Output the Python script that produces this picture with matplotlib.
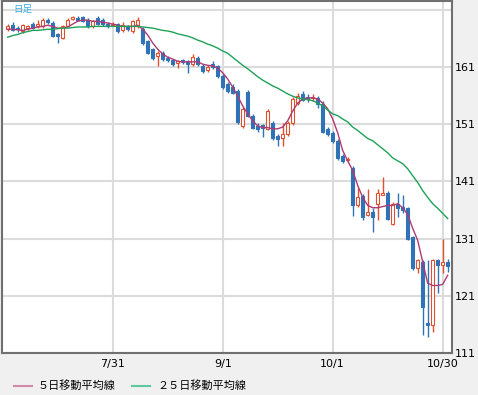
import matplotlib
matplotlib.use("Agg")
import matplotlib.pyplot as plt
from matplotlib.lines import Line2D

# daily candles, 7/1 .. 10/31 (trading days)
opens = [167.6, 168.3, 167.9, 167.3, 167.8, 168.6, 168.1, 168.2, 169.3, 168.7,
         166.8, 166.1, 168.2, 169.4, 169.6, 169.7, 169.2, 168.1, 169.6, 169.2,
         168.6, 168.3, 168.5, 167.5, 168.1, 167.3, 168.1, 167.6, 165.5, 164.1,
         162.9, 163.5, 162.6, 162.2, 161.7, 162.2, 162.0, 161.5, 162.6, 161.2,
         160.4, 161.5, 161.1, 159.4, 158.0, 157.5, 156.8, 150.7, 156.6, 152.5,
         150.7, 150.8, 150.2, 151.2, 149.0, 148.6, 149.3, 151.2, 154.7, 156.3,
         155.8, 155.6, 155.6, 154.6, 150.2, 149.5, 148.1, 145.5, 144.8, 143.4,
         136.8, 138.5, 135.2, 135.6, 137.1, 138.7, 139.0, 133.6, 137.1, 136.5,
         136.3, 131.2, 125.8, 126.9, 116.2, 115.9, 127.2, 126.3, 126.9]
highs = [168.5, 168.8, 168.2, 168.6, 168.4, 168.9, 169.2, 169.6, 169.6, 169.0,
         167.0, 168.4, 169.5, 170.0, 170.0, 170.0, 169.5, 169.3, 169.9, 169.5,
         168.8, 168.8, 168.7, 168.8, 168.3, 169.3, 169.7, 168.0, 165.7, 164.4,
         163.8, 163.8, 162.9, 162.4, 162.3, 162.4, 162.3, 163.2, 162.9, 161.5,
         161.4, 162.0, 161.4, 159.7, 158.3, 158.0, 157.1, 154.0, 156.9, 152.8,
         151.2, 151.0, 153.6, 151.5, 149.3, 151.2, 151.5, 155.8, 156.4, 156.8,
         156.2, 156.3, 155.9, 155.1, 150.5, 149.8, 148.4, 145.8, 145.3, 143.7,
         139.9, 138.8, 139.7, 136.4, 139.7, 141.7, 139.3, 137.4, 138.9, 138.7,
         136.6, 131.5, 127.5, 127.2, 127.2, 127.4, 127.5, 131.0, 127.5]
lows = [167.3, 167.3, 167.2, 167.0, 167.5, 167.6, 167.8, 167.9, 168.6, 166.2,
        165.2, 165.9, 168.0, 169.2, 169.0, 168.8, 167.8, 167.9, 168.3, 168.2,
        167.9, 168.1, 167.0, 167.2, 167.3, 167.0, 167.9, 164.9, 163.2, 162.3,
        161.2, 162.0, 161.9, 161.2, 160.8, 161.6, 160.0, 161.2, 161.2, 160.0,
        160.1, 160.7, 159.1, 157.2, 156.4, 156.2, 151.0, 150.4, 152.2, 150.1,
        149.6, 148.8, 149.9, 148.3, 147.2, 147.2, 149.0, 150.9, 154.4, 155.0,
        154.8, 155.1, 153.9, 149.4, 149.0, 147.8, 144.8, 144.2, 144.6, 135.0,
        136.5, 134.2, 135.0, 132.1, 134.2, 138.7, 134.2, 133.3, 134.7, 135.5,
        130.7, 125.5, 124.9, 114.1, 113.8, 114.7, 121.5, 124.9, 125.1]
closes = [168.2, 167.5, 167.6, 168.3, 168.1, 167.9, 168.6, 169.3, 168.9, 166.4,
          166.4, 168.1, 169.3, 169.7, 169.2, 169.0, 168.1, 169.0, 168.5, 168.5,
          168.1, 168.5, 167.3, 168.4, 167.6, 169.0, 169.3, 165.2, 163.5, 162.6,
          163.5, 162.4, 162.2, 161.5, 162.0, 161.9, 161.5, 162.7, 161.5, 160.3,
          161.0, 161.0, 159.4, 157.5, 156.8, 156.5, 151.3, 153.7, 152.5, 150.4,
          150.2, 150.4, 153.3, 148.6, 148.5, 149.3, 151.2, 155.4, 155.9, 155.3,
          155.4, 155.8, 154.6, 149.7, 149.3, 148.1, 145.1, 144.6, 145.0, 136.8,
          138.2, 134.7, 135.6, 134.7, 138.9, 139.0, 134.5, 137.1, 136.3, 136.0,
          131.0, 125.8, 127.2, 119.0, 115.9, 127.2, 126.3, 126.9, 126.2]

ma5 = [167.6, 167.6, 167.5, 167.4, 167.6, 167.8, 168.0, 168.1, 168.3, 168.1,
       167.8, 167.8, 168.0, 168.5, 169.0, 169.2, 169.2, 169.0, 169.0, 168.8,
       168.7, 168.5, 168.3, 168.1, 168.1, 168.1, 168.3, 167.6, 166.6, 165.2,
       164.1, 163.3, 162.7, 162.4, 162.0, 161.9, 161.9, 161.9, 161.9, 161.5,
       161.3, 161.2, 160.8, 160.0, 158.9, 157.5, 155.9, 154.2, 152.8, 151.6,
       150.7, 150.4, 150.4, 150.2, 150.2, 150.5, 151.6, 153.3, 154.7, 155.4,
       155.6, 155.6, 155.4, 154.7, 153.7, 151.9, 149.5, 146.4, 144.6, 142.9,
       140.3, 138.2, 136.8, 136.4, 136.4, 136.6, 136.8, 136.8, 137.1, 136.4,
       135.2, 132.8, 130.7, 126.9, 123.2, 122.8, 122.8, 123.0, 124.6]
ma25 = [166.2, 166.5, 166.7, 167.0, 167.2, 167.4, 167.4, 167.5, 167.6, 167.6,
        167.7, 167.8, 167.8, 167.9, 168.0, 168.0, 168.0, 168.1, 168.1, 168.1,
        168.1, 168.1, 168.1, 168.1, 168.1, 168.1, 168.1, 168.0, 167.9, 167.8,
        167.6, 167.4, 167.3, 167.1, 166.8, 166.6, 166.4, 166.1, 165.7, 165.4,
        165.0, 164.7, 164.3, 163.8, 163.4, 162.7, 162.0, 161.3, 160.7, 160.0,
        159.3, 158.7, 158.2, 157.7, 157.3, 156.8, 156.3, 155.9, 155.6, 155.4,
        155.3, 155.1, 154.7, 154.2, 153.5, 152.8, 152.5, 151.9, 151.4, 150.5,
        149.9, 149.2, 148.5, 148.1, 147.4, 146.7, 146.0, 145.1, 144.6, 144.1,
        143.2, 142.0, 140.8, 139.4, 138.2, 137.1, 136.3, 135.4, 134.5]

date_ticks = [21, 43, 65, 87]
date_labels = ["7/31", "9/1", "10/1", "10/30"]
price_ticks = [111, 121, 131, 141, 151, 161, 171]
price_labels = ["111", "121", "131", "141", "151", "161", ""]

UP = "#e0502c"
DOWN = "#2f72b5"

fig = plt.figure(figsize=(4.78, 3.95), dpi=100, facecolor="#f0f0f0")
ax = fig.add_axes([2 / 478, 1 - 353 / 395, 450 / 478, 352 / 395])
ax.set_facecolor("white")

idx = list(range(len(closes)))
up = [c >= o for o, c in zip(opens, closes)]

# wicks first, bodies on top
ax.vlines(idx, lows, highs, colors=[UP if u else DOWN for u in up],
          linewidth=1, zorder=3)
bottoms = [min(o, c) for o, c in zip(opens, closes)]
heights = [max(abs(c - o), 0.2) for o, c in zip(opens, closes)]
ax.bar(idx, heights, bottom=bottoms, width=0.7,
       color=["white" if u else DOWN for u in up],
       edgecolor=[UP if u else DOWN for u in up], linewidth=0.8, zorder=4)

ax.plot(idx, ma5, color="#b03a74", linewidth=1, zorder=5)
ax.plot(idx, ma25, color="#1ea257", linewidth=1, zorder=5)

ax.set_xlim(-1.14, 88.86)
ax.set_ylim(111, 172.54)
ax.set_xticks(date_ticks)
ax.set_xticklabels(date_labels)
ax.set_yticks(price_ticks)
ax.set_yticklabels(price_labels)
ax.yaxis.tick_right()
ax.tick_params(length=0, labelsize=8, colors="black")
ax.tick_params(axis="x", pad=4)
ax.tick_params(axis="y", pad=2)
ax.grid(True, color="#dcdcdc", linewidth=1.5, zorder=0)
ax.set_axisbelow(True)
for s in ax.spines.values():
    s.set_color("#707070")
    s.set_linewidth(1.5)

fig.text(13 / 478, 1 - 9 / 395, "日足", color="#35ade6", fontsize=6.8,
         family=["Noto Sans CJK JP", "DejaVu Sans"], va="center")

# legend along the bottom
ly = 1 - 386 / 395
fig.add_artist(Line2D([14 / 478, 32 / 478], [ly, ly], color="#d28aaa", linewidth=1.5))
fig.text(38 / 478, ly, "５日移動平均線", fontsize=8, va="center",
         family=["Noto Sans CJK JP", "DejaVu Sans"])
fig.add_artist(Line2D([132 / 478, 150 / 478], [ly, ly], color="#5cc89c", linewidth=1.5))
fig.text(157 / 478, ly, "２５日移動平均線", fontsize=8, va="center",
         family=["Noto Sans CJK JP", "DejaVu Sans"])

fig.savefig("out.png", dpi=100, facecolor=fig.get_facecolor())
